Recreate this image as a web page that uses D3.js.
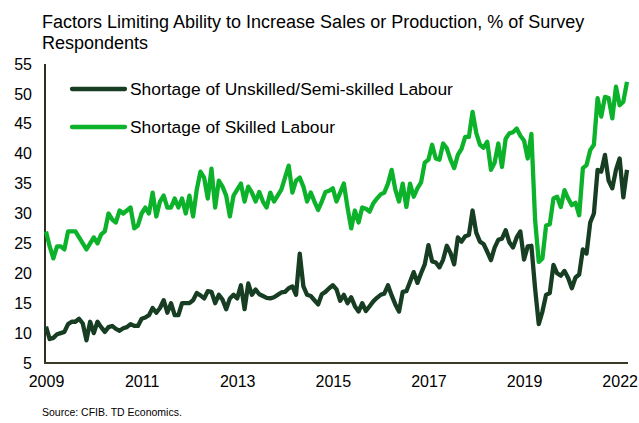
<!DOCTYPE html>
<meta charset="utf-8">
<style>
  html, body { margin: 0; padding: 0; background: #fff; }
  svg text { font-family: "Liberation Sans", Arial, sans-serif; }
</style>
<body>
<svg id="chart" width="639" height="423"></svg>
<script src="https://cdn.jsdelivr.net/npm/d3@7"></script>
<script>
  // monthly survey, Jan 2009 .. Mar 2022
  var startMonth = new Date(2009, 0, 1);
  var yTicks = [5, 10, 15, 20, 25, 30, 35, 40, 45, 50, 55];
  var xTickIdx = [0, 26, 52, 78, 104, 130, 156];   // Excel label interval of 26 months

  var unskilled = [
    11.1, 9, 9.2, 9.8, 10, 10.2, 11.5, 11.9, 11.9, 12.4, 11.6, 8.8, 11.9, 10, 11.9, 11,
    10.2, 11, 11.2, 10.7, 10.4, 10.8, 11, 11.5, 11.2, 11.2, 12.4, 12.6, 13, 14.2, 13.4, 14.2,
    15.5, 13.4, 15, 13, 13, 15, 15, 15, 15.5, 16.7, 16.3, 15.8, 17, 16.9, 15, 16.4,
    15.6, 14, 15.8, 16.4, 15.8, 18, 14, 18.3, 16.4, 17.3, 16.5, 16.2, 15.9, 15.8, 16, 16.4,
    16.8, 16.9, 17.5, 17.8, 16.4, 23.3, 17.8, 16.4, 16.2, 15.5, 14.8, 16.5, 16.9, 17.5, 18, 17.3,
    15.4, 16.4, 15, 16, 14.5, 13.6, 15, 13.7, 14.5, 15.3, 15.9, 16.4, 16.6, 18, 16.3, 14.8,
    13.6, 16.9, 17, 18.6, 20.2, 18.4, 20, 21.5, 24.7, 22, 21.8, 21, 22.3, 24.6, 23.4, 21.5,
    26, 25.3, 26.2, 26.4, 30.5, 26.8, 25.3, 24.9, 23.6, 22.2, 24.3, 25.6, 25.8, 27.2, 25.2, 24.3,
    26, 27, 22.3, 24.5, 24.6, 17.5, 11.5, 13.6, 16.4, 16.7, 21.4, 20, 19.6, 20.4, 19.2, 17.5,
    19.3, 19.8, 24, 23.3, 28.5, 30, 37.3, 37, 39.8, 35.5, 34.2, 37.3, 39.2, 32.7, 37.3
  ];

  var skilled = [
    27, 24.5, 22.5, 24.5, 24.5, 24, 27, 27, 27, 26, 25, 24, 25, 26, 25, 26.5,
    27, 30, 29, 28.5, 30.5, 30, 30.5, 31, 27.5, 28, 30, 31, 30, 33.5, 29.5, 32,
    33, 31, 31, 32.5, 31, 32.5, 30, 33, 29.5, 34, 37, 36, 32.5, 37.5, 31, 35.5,
    34.5, 33, 29.5, 33, 34, 35, 32, 34.5, 33.5, 32, 33.6, 32, 31, 33.5, 32, 33,
    34, 36, 38, 33.5, 35.5, 36, 34.5, 32, 33.5, 32, 30.6, 32, 33.6, 33.8, 34.2, 32,
    33.5, 35, 31, 27.5, 30.5, 28.5, 31, 30.8, 30.3, 31.7, 32.5, 33.2, 33.5, 35, 37.3, 34,
    32, 35, 31.1, 35, 32.8, 34.2, 35.2, 38.5, 39, 41.5, 39.2, 39, 41.7, 40.9, 39, 37.6,
    39.8, 40.8, 42.8, 42.8, 47, 43.5, 41.5, 41, 42, 37.3, 38.5, 41.7, 37.8, 42.5, 43.4, 43.6,
    44.2, 43, 42.2, 39.2, 43.3, 29, 21.9, 22.5, 28, 28.2, 32.5, 32.8, 31.1, 33.9, 32.5, 31.4,
    31.8, 29.7, 37.6, 38.1, 40.6, 41.5, 49.3, 46.2, 49.5, 49.3, 45.9, 51.2, 48.1, 48.7, 52
  ];

  var seriesNames = ["Shortage of Unskilled/Semi-skilled Labour", "Shortage of Skilled Labour"];
  var seriesColors = ["#173d22", "#0cb22a"];

  var svg = d3.select("#chart");

  var x = d3.scaleLinear().domain([0, skilled.length - 1]).range([46, 627]);
  var y = d3.scaleLinear().domain([5, 55]).range([363, 64]);

  // title
  var title = svg.append("text").attr("x", 42).attr("y", 28)
    .style("font-size", "18px").attr("fill", "#000");
  title.append("tspan").attr("x", 42).text("Factors Limiting Ability to Increase Sales or Production, % of Survey");
  title.append("tspan").attr("x", 42).attr("dy", 21).text("Respondents");

  // y axis
  var yAxis = d3.axisLeft(y).tickValues(yTicks).tickSize(0).tickPadding(13);
  var gy = svg.append("g").attr("transform", "translate(45,0)").call(yAxis);
  gy.select(".domain").remove();
  gy.selectAll("text").style("font-size", "16px").attr("fill", "#000");

  // x axis
  var xAxis = d3.axisBottom(x).tickValues(xTickIdx).tickSize(0).tickPadding(13)
    .tickFormat(function (i) { return d3.timeMonth.offset(startMonth, i).getFullYear(); });
  var gx = svg.append("g").attr("transform", "translate(0,363)").call(xAxis);
  gx.select(".domain").remove();
  gx.selectAll("text").style("font-size", "16px").attr("fill", "#000");

  svg.append("line").attr("x1", 45).attr("x2", 45).attr("y1", 64).attr("y2", 364)
    .attr("stroke", "#2e2e22").attr("stroke-width", 2);
  svg.append("line").attr("x1", 44).attr("x2", 628).attr("y1", 363).attr("y2", 363)
    .attr("stroke", "#3a3a24").attr("stroke-width", 2);

  var line = d3.line()
    .x(function (d, i) { return x(i); })
    .y(function (d) { return y(d); });

  [unskilled, skilled].forEach(function (s, k) {
    svg.append("path").datum(s)
      .attr("d", line)
      .attr("fill", "none")
      .attr("stroke", seriesColors[k])
      .attr("stroke-width", 4.3)
      .attr("stroke-linejoin", "round");
  });

  // legend
  var legend = svg.append("g");
  seriesNames.forEach(function (name, k) {
    var ly = 89 + k * 38;
    legend.append("line").attr("x1", 72).attr("x2", 125).attr("y1", ly).attr("y2", ly)
      .attr("stroke", seriesColors[k]).attr("stroke-width", 4.3).attr("stroke-linecap", "round");
    legend.append("text").attr("x", 130).attr("y", ly).attr("dy", "0.35em")
      .style("font-size", "17.4px").attr("fill", "#000").text(name);
  });

  svg.append("text").attr("x", 42).attr("y", 416)
    .style("font-size", "10.5px").attr("fill", "#000")
    .text("Source: CFIB. TD Economics.");
</script>
</body>
